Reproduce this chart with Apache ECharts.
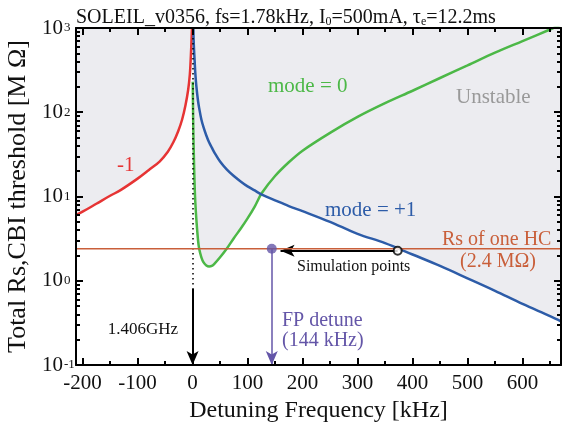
<!DOCTYPE html>
<html>
<head>
<meta charset="utf-8">
<script src="https://cdn.jsdelivr.net/npm/echarts@6/dist/echarts.min.js"></script>
<style>
  html, body { margin: 0; padding: 0; background: #fff; }
  #chart { width: 565px; height: 431px; }
</style>
</head>
<body>
<div id="chart"></div>
<script>
// axis ranges and tick values
var xMin = -212, xMax = 670;
var yMin = 0.1, yMax = 1000;
var xTicks = [-200, -100, 0, 100, 200, 300, 400, 500, 600];
var xMinorTicks = [-150, -50, 50, 150, 250, 350, 450, 550, 650];
var yTicks = [0.1, 1, 10, 100, 1000];
var yMinorTicks = [0.2, 0.3, 0.4, 0.5, 0.6, 0.7, 0.8, 0.9,
  2, 3, 4, 5, 6, 7, 8, 9, 20, 30, 40, 50, 60, 70, 80, 90,
  200, 300, 400, 500, 600, 700, 800, 900];

// mode -1 (left of resonance)
var redFreq = [-212, -200, -175, -150, -131, -100, -80, -60, -45, -35, -26, -19, -13, -8, -5, -3.6, -2.5, -1.5, -1];
var redThr = [6.0, 6.6, 8.2, 10.2, 11.9, 16.3, 20.5, 26, 34, 44, 60, 82, 120, 185, 280, 400, 580, 850, 1000];

// mode 0 and mode +1 share one frequency grid
var rightFreq = [0.3, 1, 1.5, 2, 3, 4, 5, 7, 10, 12, 16, 20, 25, 30, 35, 40, 50, 62, 75, 88, 100, 113, 126,
  150, 175, 200, 250, 300, 350, 400, 450, 500, 550, 600, 650, 670];
var blueThr = [null, null, 1000, 700, 500, 380, 290, 200, 135, 112, 82, 66, 53, 44, 38, 33, 26, 21, 17.5, 15, 13.2, 11.8, 10.5,
  9.0, 7.7, 6.7, 5.0, 3.6, 2.8, 2.05, 1.5, 1.07, 0.76, 0.53, 0.38, 0.33];
var greenThr = [230, 90, 55, 38, 20, 12, 8.5, 5.2, 3.0, 2.4, 1.9, 1.65, 1.52, 1.48, 1.5, 1.6, 1.9, 2.4, 3.2, 4.2, 5.5, 7.6, 11.0,
  17.5, 25.5, 35, 57, 88, 128, 180, 255, 360, 510, 700, 960, 1100];

var rsOneHC = 2.4;
var fpDetune = 144;
var simStart = [373, 2.27], simEnd = [160, 2.27];
var arrowTop = 0.81;

var FONT = '"Liberation Serif", "DejaVu Serif", serif';
var RED = '#e63434', BLUE = '#2d5ca8', GREEN = '#4cb847', ORANGE = '#c95f3a', PURPLE = '#6456a8';
var SMOOTH = 0.35;

function pairs(xs, ys) {
  return xs.map(function (x, i) { return [x, ys[i]]; });
}

// stability envelope: below it is stable (white), above unstable (gray)
var envelope = pairs(redFreq, redThr).concat(rightFreq.map(function (f, i) {
  var b = blueThr[i], g = greenThr[i];
  return [f, b == null ? g : Math.min(b, g)];
}));

var chart = echarts.init(document.getElementById('chart'));

function xAxisDef(pos, ticks, len, main) {
  return {
    type: 'value', position: pos, min: xMin, max: xMax, z: 10,
    name: main && pos === 'bottom' ? 'Detuning Frequency [kHz]' : '',
    nameLocation: 'middle', nameGap: 34,
    nameTextStyle: { fontFamily: FONT, fontSize: 24, color: '#111' },
    axisLine: { show: main, onZero: false, lineStyle: { color: '#000', width: 2 } },
    axisTick: { show: true, inside: true, length: len, customValues: ticks, lineStyle: { color: '#000', width: 2 } },
    axisLabel: {
      show: main && pos === 'bottom', customValues: ticks, margin: 8,
      fontFamily: FONT, fontSize: 21, color: '#111'
    },
    splitLine: { show: false }
  };
}

function yAxisDef(pos, ticks, len, main) {
  return {
    type: 'log', logBase: 10, position: pos, min: yMin, max: yMax, z: 10,
    name: main && pos === 'left' ? 'Total Rs,CBI threshold [M \u03a9]' : '',
    nameLocation: 'middle', nameGap: 42,
    nameTextStyle: { fontFamily: FONT, fontSize: 26, color: '#111' },
    axisLine: { show: main, onZero: false, lineStyle: { color: '#000', width: 2 } },
    axisTick: { show: true, inside: true, length: len, customValues: ticks, lineStyle: { color: '#000', width: 2 } },
    axisLabel: {
      show: main && pos === 'left', customValues: ticks, margin: 13,
      fontFamily: FONT, fontSize: 21, color: '#111',
      formatter: function () { return '10'; }
    },
    splitLine: { show: false }
  };
}

// exponents of the decade labels, drawn as superscripts
var expAxis = {
  type: 'log', logBase: 10, position: 'left', min: yMin, max: yMax, z: 10,
  axisLine: { show: false, onZero: false }, axisTick: { show: false }, splitLine: { show: false },
  axisLabel: {
    customValues: yTicks, margin: 12, align: 'left', padding: [0, 0, 22, 0],
    fontFamily: FONT, fontSize: 13, color: '#111',
    formatter: function (v) { return String(Math.round(Math.log(v) / Math.LN10)); }
  }
};

function textEl(x, y, text, color, size, align) {
  return {
    type: 'text', x: x, y: y, z: 100,
    style: {
      text: text, fill: color, font: size + 'px ' + FONT,
      align: align || 'left', verticalAlign: 'middle'
    }
  };
}

chart.setOption({
  animation: false,
  backgroundColor: '#fff',
  title: {
    left: 76, top: 6, padding: 0,
    text: '{n|SOLEIL_v0356, fs=1.78kHz, I}{sub|0}{n|=500mA, \u03c4}{sub|e}{n|=12.2ms}',
    textStyle: {
      fontFamily: FONT, fontWeight: 'normal', color: '#111', fontSize: 20,
      rich: {
        n: { fontFamily: FONT, fontSize: 20, color: '#111', lineHeight: 22, verticalAlign: 'bottom' },
        sub: { fontFamily: FONT, fontSize: 12, color: '#111', lineHeight: 12, verticalAlign: 'bottom' }
      }
    }
  },
  grid: {
    left: 76, right: 4, top: 28, bottom: 66,
    containLabel: false, outerBoundsMode: 'none',
    show: true, backgroundColor: '#ececf0', borderWidth: 0
  },
  xAxis: [
    xAxisDef('bottom', xTicks, 7, true),
    xAxisDef('bottom', xMinorTicks, 4, false),
    xAxisDef('top', xTicks, 7, true),
    xAxisDef('top', xMinorTicks, 4, false)
  ],
  yAxis: [
    yAxisDef('left', yTicks, 7, true),
    yAxisDef('left', yMinorTicks, 4, false),
    yAxisDef('right', yTicks, 7, true),
    yAxisDef('right', yMinorTicks, 4, false),
    expAxis
  ],
  series: [
    {
      name: 'stable', type: 'line', data: envelope, symbol: 'none', z: 1, smooth: SMOOTH,
      lineStyle: { width: 0 }, areaStyle: { color: '#fff', opacity: 1, origin: 'start' }
    },
    {
      name: 'mode -1', type: 'line', data: pairs(redFreq, redThr), symbol: 'none', z: 3, smooth: SMOOTH,
      lineStyle: { color: RED, width: 2.5 }
    },
    {
      name: 'mode 0', type: 'line', data: pairs(rightFreq, greenThr), symbol: 'none', z: 3, smooth: SMOOTH,
      lineStyle: { color: GREEN, width: 2.5 }
    },
    {
      name: 'mode +1', type: 'line', data: pairs(rightFreq, blueThr), symbol: 'none', z: 4, smooth: SMOOTH,
      lineStyle: { color: BLUE, width: 2.5 }
    },
    {
      name: 'Rs of one HC', type: 'line', data: [[xMin, rsOneHC], [xMax, rsOneHC]], symbol: 'none', z: 5,
      lineStyle: { color: ORANGE, width: 1.5 },
      markLine: {
        silent: true, symbol: ['none', 'none'], label: { show: false }, animation: false,
        data: [
          [{ coord: [0, yMax], lineStyle: { color: '#000', width: 1.5, type: [1.5, 3.5] } }, { coord: [0, arrowTop] }],
          [{ coord: [0, arrowTop], lineStyle: { color: '#000', width: 2, type: 'solid' } },
           { coord: [0, yMin], symbol: 'arrow', symbolSize: [9, 14] }],
          [{ coord: [fpDetune, rsOneHC], lineStyle: { color: PURPLE, width: 1.5, type: 'solid' } },
           { coord: [fpDetune, yMin], symbol: 'arrow', symbolSize: [9, 14] }],
          [{ coord: simStart, lineStyle: { color: '#000', width: 2, type: 'solid' } },
           { coord: simEnd, symbol: 'arrow', symbolSize: [9, 14] }]
        ]
      }
    },
    {
      name: 'FP detune', type: 'scatter', data: [[fpDetune, rsOneHC]], z: 6,
      symbol: 'circle', symbolSize: 10, itemStyle: { color: PURPLE }
    },
    {
      name: 'simulation', type: 'scatter', data: [simStart], z: 6,
      symbol: 'circle', symbolSize: 8, itemStyle: { color: '#fff', borderColor: '#000', borderWidth: 2 }
    }
  ],
  graphic: [
    textEl(268, 86, 'mode = 0', GREEN, 21),
    textEl(325, 210, 'mode = +1', BLUE, 21),
    textEl(456, 97, 'Unstable', '#999', 21),
    textEl(117, 165, '-1', RED, 21),
    textEl(442, 240, 'Rs of one HC', ORANGE, 20),
    textEl(460, 262, '(2.4 M\u03a9)', ORANGE, 20),
    textEl(297, 267, 'Simulation points', '#111', 16),
    textEl(282, 321, 'FP detune', PURPLE, 20),
    textEl(282, 341, '(144 kHz)', PURPLE, 20),
    textEl(178, 330, '1.406GHz', '#111', 17, 'right')
  ]
});
</script>
</body>
</html>
